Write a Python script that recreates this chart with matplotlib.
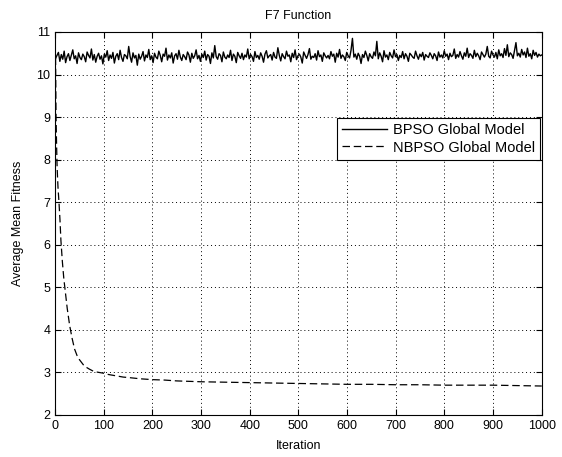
import numpy as np
import matplotlib
matplotlib.use('Agg')
import matplotlib.pyplot as plt

plt.rcParams['font.family'] = ['Liberation Sans', 'DejaVu Sans']

# BPSO Global Model, read about every 3 iterations (noisy band around 10.4)
bpso_vals = [
    10.38, 10.45, 10.52, 10.31, 10.47, 10.36, 10.55, 10.28, 10.42, 10.49,
    10.33, 10.46, 10.58, 10.37, 10.44, 10.26, 10.51, 10.40, 10.35, 10.48,
    10.42, 10.30, 10.53, 10.45, 10.39, 10.60, 10.34, 10.47, 10.29, 10.43,
    10.50, 10.36, 10.44, 10.25, 10.48, 10.41, 10.56, 10.33, 10.46, 10.38,
    10.52, 10.27, 10.43, 10.49, 10.35, 10.57, 10.40, 10.31, 10.47, 10.44,
    10.37, 10.66, 10.42, 10.29, 10.51, 10.39, 10.45, 10.22, 10.48, 10.36,
    10.43, 10.54, 10.32, 10.46, 10.40, 10.59, 10.35, 10.44, 10.28, 10.50,
    10.41, 10.37, 10.55, 10.45, 10.30, 10.48, 10.43, 10.62, 10.34, 10.46,
    10.39, 10.51, 10.27, 10.44, 10.49, 10.36, 10.57, 10.41, 10.33, 10.47,
    10.42, 10.35, 10.53, 10.46, 10.29, 10.50, 10.38, 10.44, 10.58, 10.37,
    10.45, 10.31, 10.48, 10.40, 10.55, 10.34, 10.47, 10.43, 10.26, 10.51,
    10.39, 10.68, 10.42, 10.36, 10.49, 10.45, 10.30, 10.53, 10.41, 10.37,
    10.46, 10.40, 10.57, 10.33, 10.48, 10.43, 10.28, 10.52, 10.44, 10.38,
    10.50, 10.35, 10.46, 10.41, 10.60, 10.37, 10.47, 10.42, 10.31, 10.54,
    10.40, 10.45, 10.36, 10.51, 10.43, 10.29, 10.48, 10.56, 10.39, 10.44,
    10.47, 10.34, 10.52, 10.41, 10.38, 10.63, 10.45, 10.32, 10.49, 10.42,
    10.37, 10.55, 10.43, 10.46, 10.30, 10.50, 10.40, 10.58, 10.35, 10.44,
    10.48, 10.41, 10.27, 10.53, 10.45, 10.38, 10.47, 10.61, 10.36, 10.43,
    10.40, 10.49, 10.34, 10.56, 10.42, 10.46, 10.31, 10.51, 10.44, 10.39,
    10.45, 10.37, 10.54, 10.43, 10.48, 10.29, 10.50, 10.41, 10.59, 10.38,
    10.46, 10.42, 10.33, 10.52, 10.44, 10.39, 10.57, 10.85, 10.41, 10.48,
    10.36, 10.50, 10.43, 10.26, 10.47, 10.40, 10.55, 10.45, 10.32, 10.49,
    10.42, 10.38, 10.53, 10.44, 10.78, 10.37, 10.51, 10.43, 10.30, 10.56,
    10.41, 10.46, 10.35, 10.52, 10.44, 10.39, 10.58, 10.42, 10.47, 10.33,
    10.45, 10.40, 10.54, 10.37, 10.49, 10.43, 10.31, 10.50, 10.46, 10.41,
    10.38, 10.55, 10.44, 10.36, 10.48, 10.42, 10.52, 10.34, 10.47, 10.43,
    10.40, 10.51, 10.45, 10.37, 10.49, 10.44, 10.33, 10.53, 10.41, 10.46,
    10.39, 10.56, 10.43, 10.48, 10.35, 10.50, 10.42, 10.45, 10.60, 10.38,
    10.47, 10.41, 10.54, 10.44, 10.36, 10.51, 10.43, 10.62, 10.40, 10.49,
    10.45, 10.38, 10.57, 10.42, 10.50, 10.44, 10.35, 10.53, 10.47, 10.41,
    10.48, 10.66, 10.43, 10.39, 10.55, 10.46, 10.41, 10.52, 10.37, 10.58,
    10.44, 10.49, 10.40, 10.61, 10.45, 10.70, 10.42, 10.51, 10.47, 10.38,
    10.56, 10.75, 10.44, 10.50, 10.41, 10.59, 10.46, 10.53, 10.40, 10.62,
    10.43, 10.49, 10.37, 10.57, 10.45, 10.52, 10.41, 10.48, 10.44, 10.46,
]
bpso_iter = np.linspace(1, 1000, len(bpso_vals))

# NBPSO Global Model
nbpso_iter = [1, 2, 3, 4, 5, 6, 8, 10, 12, 15, 18, 20, 25, 30, 35, 40, 45, 50,
              60, 70, 80, 90, 100, 110, 120, 130, 140, 150, 175, 200, 225, 250,
              275, 300, 350, 400, 450, 500, 550, 600, 650, 700, 750, 800, 850,
              900, 950, 1000]
nbpso_vals = [10.4, 9.0, 8.4, 7.9, 7.6, 7.35, 7.0, 6.6, 6.1, 5.6, 5.2, 5.0, 4.5,
              4.1, 3.8, 3.55, 3.4, 3.3, 3.15, 3.08, 3.02, 3.0, 2.98, 2.95, 2.93,
              2.91, 2.89, 2.88, 2.85, 2.83, 2.82, 2.80, 2.79, 2.78, 2.77, 2.76,
              2.75, 2.74, 2.73, 2.72, 2.72, 2.71, 2.71, 2.70, 2.70, 2.70, 2.69,
              2.68]

fig = plt.figure(figsize=(5.62, 4.57), dpi=100)
ax = fig.add_axes([0.098, 0.092, 0.866, 0.838])

ax.plot(bpso_iter, bpso_vals, color='k', linewidth=1.0, label='BPSO Global Model')
ax.plot(nbpso_iter, nbpso_vals, '--', color='k', linewidth=0.9,
        dashes=(6, 3), label='NBPSO Global Model')

ax.set_xlim(0, 1000)
ax.set_ylim(2, 11)
ax.set_xticks(np.arange(0, 1001, 100))
ax.set_yticks(np.arange(2, 12, 1))
ax.grid(True, linestyle=(0, (1, 3)), color='k', linewidth=0.7)
ax.tick_params(direction='in', length=4, top=True, right=True, labelsize=9)
for s in ax.spines.values():
    s.set_linewidth(0.8)

ax.set_title('F7 Function', fontsize=9, pad=9)
ax.set_xlabel('Iteration', fontsize=9, labelpad=6)
ax.set_ylabel('Average Mean Fitness', fontsize=9, labelpad=9)

leg = ax.legend(loc='upper right', bbox_to_anchor=(0.996, 0.776), fontsize=10.5,
                frameon=True, fancybox=False, framealpha=1, borderaxespad=0,
                handlelength=3.1, handletextpad=0.35, borderpad=0.35,
                labelspacing=0.25)
leg.get_frame().set_edgecolor('k')
leg.get_frame().set_linewidth(0.8)

fig.savefig('out.png', dpi=100)
